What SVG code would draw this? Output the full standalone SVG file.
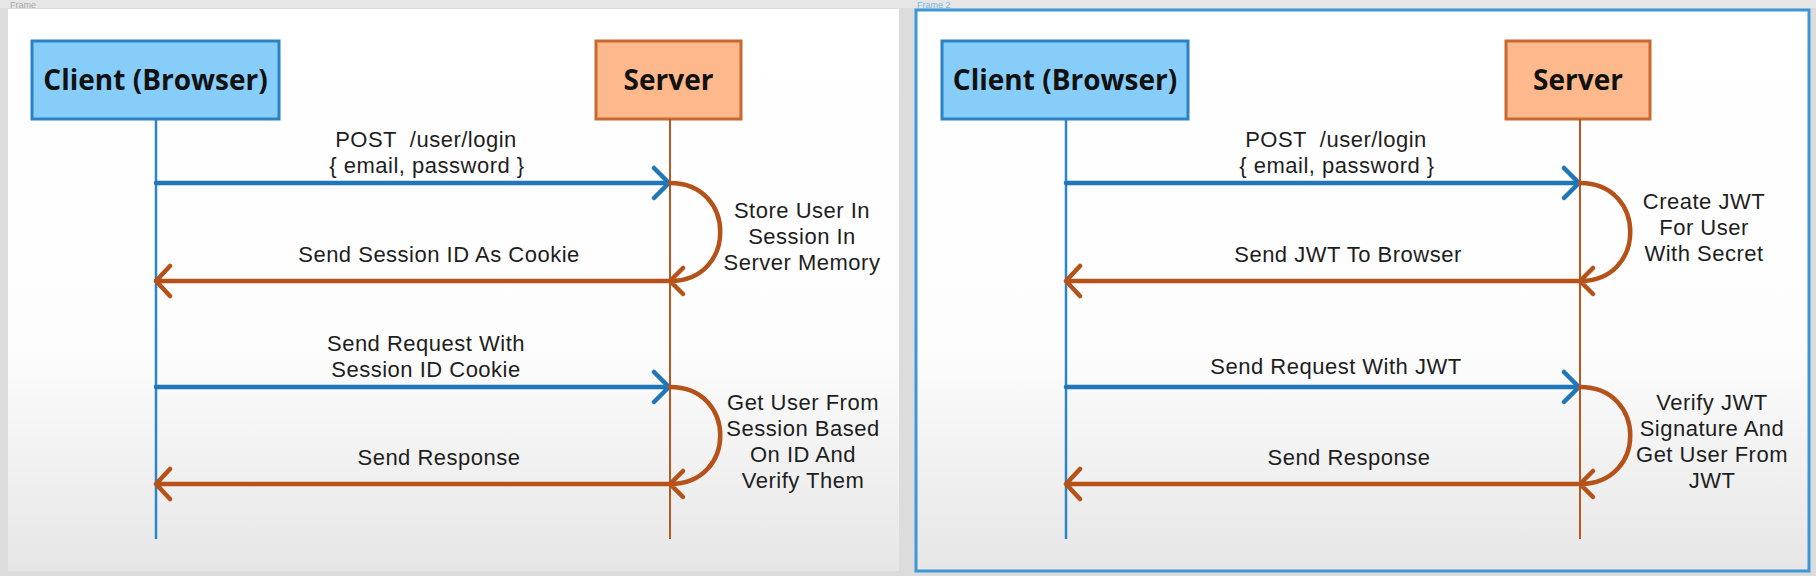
<svg xmlns="http://www.w3.org/2000/svg" width="1816" height="576" viewBox="0 0 1816 576">
<defs>
<linearGradient id="pg" x1="0" y1="0" x2="0" y2="1">
<stop offset="0" stop-color="#ffffff"/>
<stop offset="0.6" stop-color="#fdfdfd"/>
<stop offset="1" stop-color="#e6e6e6"/>
</linearGradient>
<style>
.lbl{font-family:"Liberation Sans",Arial,sans-serif;font-size:22px;letter-spacing:0.5px;fill:#1e1e1e;text-anchor:middle;white-space:pre}
.ttl{font-family:"Open Sans","Liberation Sans",sans-serif;font-size:28px;font-weight:bold;fill:#111;text-anchor:middle}
.cbox{fill:#87cdf9;stroke:#2a82c4;stroke-width:3}
.sbox{fill:#fdb98b;stroke:#c9692f;stroke-width:3}
.lc{stroke:#2a86c6;stroke-width:2.5;fill:none}
.ls{stroke:#b8571f;stroke-width:2;fill:none}
.req{stroke:#1f76b9;stroke-width:4.5;fill:none;stroke-linecap:round;stroke-linejoin:round}
.res{stroke:#b5521a;stroke-width:4.5;fill:none;stroke-linecap:round;stroke-linejoin:round}
.frm{font-family:"Liberation Sans",sans-serif;font-size:9px}
</style>
</defs>
<rect x="0" y="0" width="1816" height="576" fill="#dcdcdc"/>
<rect x="0" y="0" width="1816" height="8" fill="#e6e6e6"/>
<text class="frm" x="10" y="8" fill="#a8a8a8">Frame</text>
<text class="frm" x="917" y="8" fill="#7db7e0">Frame 2</text>
<rect x="8" y="9" width="891" height="562" fill="url(#pg)"/>
<rect x="916" y="10" width="893" height="561" fill="url(#pg)" stroke="#3d97d4" stroke-width="3"/>

<g id="client-1"><rect class="cbox" x="32" y="41" width="247" height="78"/><text class="ttl" x="155.5" y="90">Client (Browser)</text></g>
<g id="server-1"><rect class="sbox" x="596" y="41" width="145" height="78"/><text class="ttl" x="668.5" y="90">Server</text></g>
<g id="client-2"><rect class="cbox" x="942" y="41" width="246" height="78"/><text class="ttl" x="1065" y="90">Client (Browser)</text></g>
<g id="server-2"><rect class="sbox" x="1506" y="41" width="144" height="78"/><text class="ttl" x="1578" y="90">Server</text></g>

<g id="connectors">
<line class="lc" x1="156" y1="119" x2="156" y2="539"/>
<line class="ls" x1="670" y1="119" x2="670" y2="539"/>
<line class="lc" x1="1066" y1="119" x2="1066" y2="539"/>
<line class="ls" x1="1580" y1="119" x2="1580" y2="539"/>

<path class="req" d="M156 183H669M654 168L669 183L654 198"/>
<path class="res" d="M670 183C737 183 737 281 670 281M683 268L670 281L683 294"/>
<path class="res" d="M670 281H156M170 266L156 281L170 296"/>
<path class="req" d="M156 387H669M654 372L669 387L654 402"/>
<path class="res" d="M670 387C737 387 737 484 670 484M683 471L670 484L683 497"/>
<path class="res" d="M670 484H156M170 469L156 484L170 499"/>

<path class="req" d="M1066 183H1579M1564 168L1579 183L1564 198"/>
<path class="res" d="M1580 183C1647 183 1647 281 1580 281M1593 268L1580 281L1593 294"/>
<path class="res" d="M1580 281H1066M1080 266L1066 281L1080 296"/>
<path class="req" d="M1066 387H1579M1564 372L1579 387L1564 402"/>
<path class="res" d="M1580 387C1647 387 1647 484 1580 484M1593 471L1580 484L1593 497"/>
<path class="res" d="M1580 484H1066M1080 469L1066 484L1080 499"/>
</g>

<g id="labels-1">
<text class="lbl" y="147"><tspan x="426">POST  /user/login</tspan><tspan x="427" dy="26">{ email, password }</tspan></text>
<text class="lbl" x="439" y="262">Send Session ID As Cookie</text>
<text class="lbl" y="218"><tspan x="802">Store User In</tspan><tspan x="802" dy="26">Session In</tspan><tspan x="802" dy="26">Server Memory</tspan></text>
<text class="lbl" y="351"><tspan x="426">Send Request With</tspan><tspan x="426" dy="26">Session ID Cookie</tspan></text>
<text class="lbl" x="439" y="465">Send Response</text>
<text class="lbl" y="410"><tspan x="803">Get User From</tspan><tspan x="803" dy="26">Session Based</tspan><tspan x="803" dy="26">On ID And</tspan><tspan x="803" dy="26">Verify Them</tspan></text>
</g>
<g id="labels-2">
<text class="lbl" y="147"><tspan x="1336">POST  /user/login</tspan><tspan x="1337" dy="26">{ email, password }</tspan></text>
<text class="lbl" x="1348" y="262">Send JWT To Browser</text>
<text class="lbl" y="209"><tspan x="1704">Create JWT</tspan><tspan x="1704" dy="26">For User</tspan><tspan x="1704" dy="26">With Secret</tspan></text>
<text class="lbl" x="1336" y="374">Send Request With JWT</text>
<text class="lbl" x="1349" y="465">Send Response</text>
<text class="lbl" y="410"><tspan x="1712">Verify JWT</tspan><tspan x="1712" dy="26">Signature And</tspan><tspan x="1712" dy="26">Get User From</tspan><tspan x="1712" dy="26">JWT</tspan></text>
</g>
</svg>
